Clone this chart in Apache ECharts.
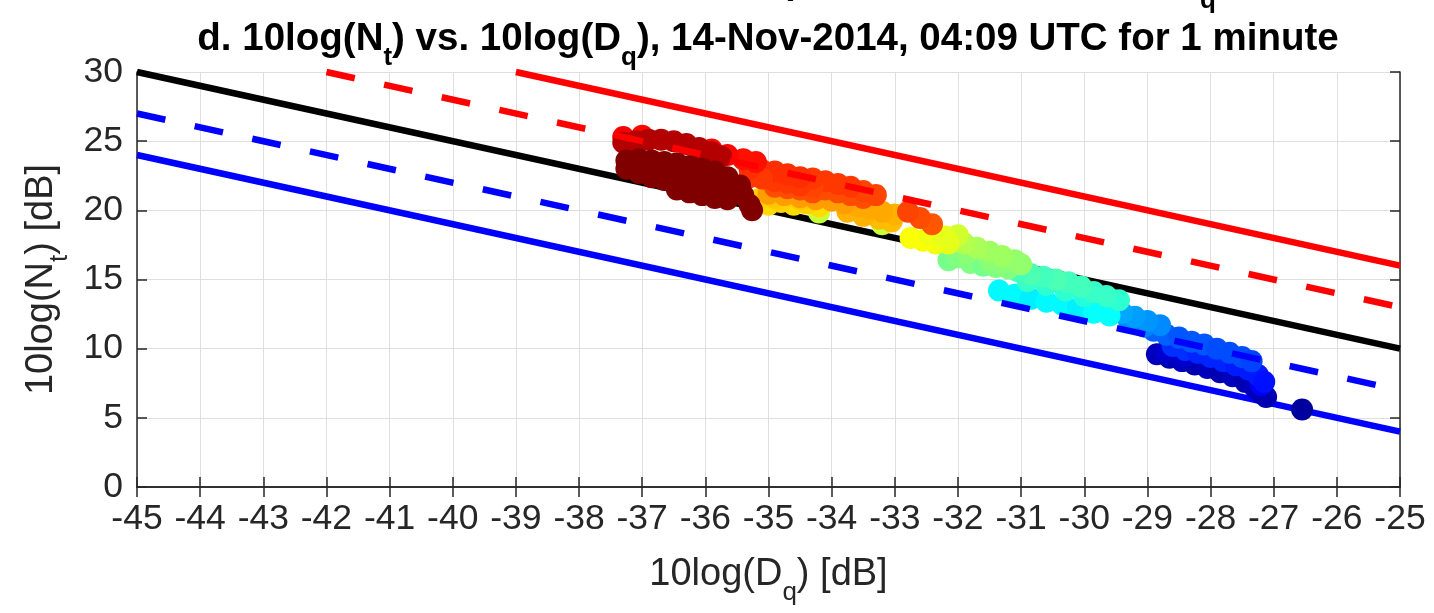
<!DOCTYPE html>
<html>
<head>
<meta charset="utf-8">
<script src="https://cdn.jsdelivr.net/npm/echarts@6/dist/echarts.min.js"></script>
<style>
  html, body { margin: 0; padding: 0; background: #ffffff; }
  #chart { width: 1434px; height: 613px; }
</style>
</head>
<body>
<div id="chart"></div>
<script>
// Axis ranges and tick spacing (dB)
const xRange = [-45, -25];
const yRange = [0, 30];
const xStep = 1;
const yStep = 5;

// Reference lines, given by their end points [x0, x1] / [y0, y1]
const blackLineX = [-45, -25], blackLineY = [30, 10];
const redSolidX = [-39, -25], redSolidY = [30, 16];
const redDashX = [-42, -25], redDashY = [30, 13];
const blueDashX = [-45, -25], blueDashY = [27, 7];
const blueSolidX = [-45, -25], blueSolidY = [24, 4];

// One-minute samples, in drawing order:
// 10log(Dq) [dB], 10log(Nt) [dB] and colour index (0..1 on the jet scale)
const dqDb = [
  -26.55,
  -28.85, -28.65, -28.45, -28.25, -28.05, -27.85, -27.65, -27.45, -27.3, -27.2, -27.12, -28.7, -28.4,
  -27.2,
  -28.6, -28.4, -28.2, -28.0, -27.8, -27.6, -27.4, -27.25, -27.15,
  -28.9, -28.7, -28.5, -28.3, -28.1, -27.9, -27.7, -27.5, -27.35,
  -29.05, -29.3, -28.8, -29.0, -29.2, -29.4, -29.6,
  -31.35, -31.1, -30.85, -30.6, -30.35, -30.1, -29.85, -29.6,
  -30.0, -30.3, -30.6, -30.9, -29.45, -29.65, -29.85, -30.05, -30.25, -30.45, -30.65, -30.85, -31.05,
  -32.15, -32.0, -31.8, -31.6, -31.4, -31.2, -31.85, -31.5, -31.3, -31.0, -31.1, -31.3, -31.5, -31.7, -31.9, -32.1,
  -34.2, -33.2, -32.0,
  -32.15, -32.35, -32.55, -32.75, -32.45, -32.2,
  -35.7, -35.0, -34.6, -34.2, -35.15, -34.8, -34.4, -34.9, -34.5,
  -33.05, -33.25, -33.5, -33.75, -33.0, -33.2, -33.4, -33.6, -33.8, -34.0, -34.25, -34.5, -34.75, -35.0,
  -32.41, -32.6, -32.79,
  -34.9, -34.7, -34.5, -34.3, -34.1, -33.9, -33.7, -33.5,
  -33.3, -33.5, -33.7, -33.9, -34.1, -34.3, -34.5, -34.7, -34.9, -34.3, -34.5, -34.7, -34.9, -35.1, -35.1, -35.3, -35.3,
  -35.2, -35.4, -35.65, -35.9, -37.0, -37.3,
  -37.3, -37.1, -36.9, -36.7, -36.5, -36.3, -36.1, -35.9, -35.75,
  -37.25, -37.25,
  -37.05, -37.05, -37.05,
  -36.85, -36.85, -36.85,
  -36.65, -36.65, -36.65,
  -36.45, -36.45, -36.45, -36.45,
  -36.25, -36.25, -36.25, -36.25,
  -36.05, -36.05, -36.05, -36.05,
  -35.85, -35.85, -35.85, -35.85,
  -35.65, -35.65, -35.65,
  -35.45, -35.4, -35.3, -35.26
];
const ntDb = [
  5.6,
  9.6, 9.35, 9.1, 8.85, 8.6, 8.3, 8.0, 7.6, 7.2, 6.8, 6.5, 9.8, 9.5,
  7.4,
  10.2, 9.9, 9.7, 9.4, 9.1, 8.8, 8.5, 8.1, 7.6,
  11.3, 11.0, 10.8, 10.5, 10.3, 10.0, 9.7, 9.4, 9.1,
  11.6, 12.1, 11.7, 12.0, 12.3, 12.6, 12.9,
  14.2, 13.9, 13.6, 13.4, 13.2, 12.9, 12.6, 12.4,
  13.8, 14.2, 14.6, 14.9, 13.5, 13.8, 14.1, 14.5, 14.8, 15.0, 15.2, 15.4, 15.6,
  16.4, 16.6, 16.2, 16.0, 15.9, 15.8, 16.9, 16.4, 16.2, 16.1, 16.4, 16.7, 17.0, 17.3, 17.6, 18.0,
  19.85, 19.0, 18.2,
  17.6, 17.6, 17.8, 18.0, 18.2, 18.1,
  21.4, 20.4, 20.4, 20.3, 20.8, 20.6, 20.5, 20.9, 20.8,
  19.2, 19.4, 19.6, 19.9, 19.7, 19.9, 20.1, 20.3, 20.5, 20.7, 20.8, 20.95, 21.1, 21.2,
  19.0, 19.45, 19.9,
  21.7, 21.6, 21.5, 21.3, 21.5, 21.3, 21.1, 20.9,
  21.1, 21.4, 21.7, 21.9, 22.1, 21.7, 21.8, 22.0, 22.1, 22.3, 22.4, 22.6, 22.8, 22.9, 22.3, 22.4, 23.0,
  23.5, 23.7, 24.0, 24.4, 25.4, 25.3,
  24.9, 25.0, 25.1, 25.1, 25.0, 24.8, 24.5, 24.2, 23.9,
  23.6, 23.0,
  23.7, 23.1, 22.7,
  23.6, 23.0, 22.4,
  23.5, 22.9, 22.2,
  23.4, 22.7, 22.0, 21.5,
  23.2, 22.6, 21.9, 21.3,
  23.0, 22.4, 21.7, 21.1,
  22.8, 22.1, 21.5, 20.9,
  22.4, 21.8, 20.8,
  21.8, 21.1, 20.4, 20.0
];
const colorIdx = [
  0.03,
  0.06, 0.05, 0.06, 0.05, 0.06, 0.05, 0.06, 0.05, 0.06, 0.05, 0.05, 0.08, 0.08,
  0.12,
  0.17, 0.17, 0.16, 0.16, 0.16, 0.15, 0.15, 0.15, 0.14,
  0.22, 0.22, 0.21, 0.21, 0.21, 0.2, 0.2, 0.2, 0.19,
  0.25, 0.26, 0.26, 0.27, 0.28, 0.29, 0.3,
  0.37, 0.37, 0.36, 0.37, 0.37, 0.36, 0.38, 0.38,
  0.41, 0.42, 0.42, 0.43, 0.42, 0.43, 0.43, 0.44, 0.44, 0.45, 0.44, 0.45, 0.44,
  0.49, 0.5, 0.5, 0.49, 0.5, 0.5, 0.51, 0.51, 0.51, 0.52, 0.52, 0.53, 0.53, 0.54, 0.55, 0.56,
  0.57, 0.57, 0.58,
  0.6, 0.61, 0.62, 0.62, 0.61, 0.6,
  0.64, 0.66, 0.66, 0.66, 0.67, 0.67, 0.67, 0.68, 0.68,
  0.69, 0.69, 0.7, 0.7, 0.7, 0.71, 0.71, 0.71, 0.72, 0.72, 0.72, 0.72, 0.72, 0.72,
  0.79, 0.8, 0.81,
  0.8, 0.8, 0.8, 0.8, 0.8, 0.8, 0.8, 0.8,
  0.81, 0.81, 0.82, 0.82, 0.82, 0.81, 0.82, 0.82, 0.82, 0.82, 0.83, 0.83, 0.83, 0.83, 0.82, 0.82, 0.83,
  0.86, 0.86, 0.87, 0.87, 0.87, 0.88,
  0.95, 0.95, 0.95, 0.95, 0.95, 0.95, 0.95, 0.95, 0.95,
  1, 1,
  1, 1, 1,
  1, 1, 1,
  1, 1, 1,
  1, 1, 1, 1,
  1, 1, 1, 1,
  1, 1, 1, 1,
  1, 1, 1, 1,
  1, 1, 1,
  1, 1, 1, 1
];

// MATLAB-style jet colour map
const jetColors = ['#000080', '#0000ff', '#0080ff', '#00ffff', '#80ff80', '#ffff00', '#ff8000', '#ff0000', '#800000'];

const FONT = "'Liberation Sans', Arial, Helvetica, sans-serif";
const AXIS_COLOR = '#262626';
const LW = 6.5;
const DASH = [29, 30];

const samples = dqDb.map((x, i) => [x, ntDb[i], colorIdx[i]]);
const seg = (xs, ys) => xs.map((x, i) => [x, ys[i]]);

function lineSeries(xs, ys, color, dashed, z) {
  return {
    type: 'line',
    data: seg(xs, ys),
    showSymbol: false,
    symbol: 'none',
    silent: true,
    z: z,
    lineStyle: { color: color, width: LW, type: dashed ? DASH : 'solid', cap: 'butt' }
  };
}

// subscript text: smaller and pushed below the baseline
const subStyle = (color, bold) => ({
  fontFamily: FONT, fontSize: 26, color: color, fontWeight: bold ? 'bold' : 'normal',
  padding: [36, 0, 0, 0], lineHeight: 26
});

const chart = echarts.init(document.getElementById('chart'), null, { renderer: 'canvas' });

const tickCommon = {
  axisLine: { show: true, lineStyle: { color: AXIS_COLOR, width: 1.5 } },
  axisTick: { show: true, inside: true, length: 10, lineStyle: { color: AXIS_COLOR, width: 1.5 } }
};

chart.setOption({
  animation: false,
  backgroundColor: '#ffffff',
  grid: { left: 137, right: 34, top: 72, bottom: 126, containLabel: false },
  xAxis: [
    Object.assign({
      type: 'value', min: xRange[0], max: xRange[1], interval: xStep, position: 'bottom',
      axisLabel: { fontSize: 35.5, color: AXIS_COLOR, fontFamily: FONT, margin: 14 },
      splitLine: { show: true, lineStyle: { color: '#dfdfdf', width: 1 } },
      name: '10log(D{s|q}) [dB]',
      nameLocation: 'middle',
      nameGap: 69,
      nameTextStyle: {
        fontFamily: FONT, fontSize: 38, color: AXIS_COLOR,
        rich: { s: subStyle(AXIS_COLOR, false) }
      }
    }, tickCommon),
    Object.assign({
      type: 'value', min: xRange[0], max: xRange[1], interval: xStep, position: 'top',
      axisLabel: { show: false }, splitLine: { show: false }
    }, tickCommon)
  ],
  yAxis: [
    Object.assign({
      type: 'value', min: yRange[0], max: yRange[1], interval: yStep, position: 'left',
      axisLabel: { fontSize: 35.5, color: AXIS_COLOR, fontFamily: FONT, margin: 14 },
      splitLine: { show: true, lineStyle: { color: '#dfdfdf', width: 1 } },
      name: '10log(N{s|t}) [dB]',
      nameLocation: 'middle',
      nameGap: 72,
      nameTextStyle: {
        fontFamily: FONT, fontSize: 38, color: AXIS_COLOR,
        rich: { s: subStyle(AXIS_COLOR, false) }
      }
    }, tickCommon),
    Object.assign({
      type: 'value', min: yRange[0], max: yRange[1], interval: yStep, position: 'right',
      axisLabel: { show: false }, splitLine: { show: false }
    }, tickCommon)
  ],
  visualMap: {
    type: 'continuous', show: false, dimension: 2, min: 0, max: 1,
    seriesIndex: 2, inRange: { color: jetColors }
  },
  series: [
    lineSeries(blackLineX, blackLineY, '#000000', false, 1),
    lineSeries(blueSolidX, blueSolidY, '#0000ff', false, 1),
    {
      type: 'scatter',
      data: samples,
      symbol: 'circle',
      symbolSize: 22,
      z: 2,
      silent: true,
      itemStyle: { opacity: 1, borderWidth: 0 }
    },
    lineSeries(redSolidX, redSolidY, '#ff0000', false, 3),
    lineSeries(redDashX, redDashY, '#ff0000', true, 3),
    lineSeries(blueDashX, blueDashY, '#0000ff', true, 3)
  ],
  graphic: [
    {
      type: 'text', x: 768, y: 20, silent: true,
      style: {
        text: 'd. 10log(N{s|t}) vs. 10log(D{s|q}), 14-Nov-2014, 04:09 UTC for 1 minute',
        fontFamily: FONT, fontSize: 38.5, fontWeight: 'bold', fill: '#000000',
        textAlign: 'center', textVerticalAlign: 'top',
        rich: { s: Object.assign(subStyle('#000000', true), { fill: '#000000' }) }
      }
    },
    {
      type: 'text', x: 787, y: -36, silent: true,
      style: { text: '(', fontFamily: FONT, fontSize: 38, fontWeight: 'bold', fill: '#000000', textAlign: 'center', textVerticalAlign: 'top' }
    },
    {
      type: 'text', x: 1208, y: -12, silent: true,
      style: { text: 'q', fontFamily: FONT, fontSize: 26, fontWeight: 'bold', fill: '#000000', textAlign: 'center', textVerticalAlign: 'top' }
    }
  ]
});
</script>
</body>
</html>
